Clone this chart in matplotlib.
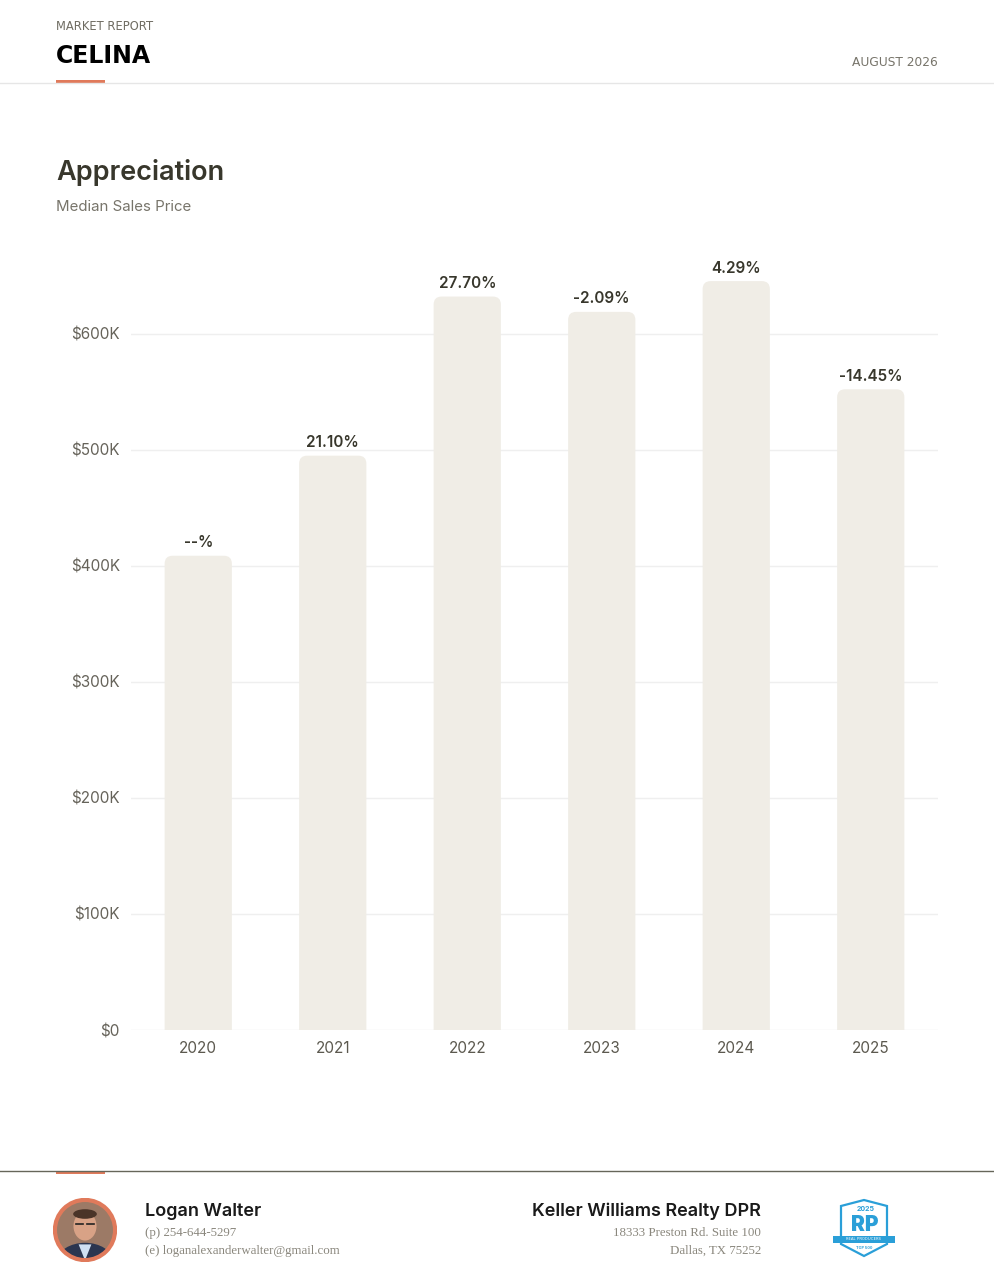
import numpy as np
import matplotlib
matplotlib.use('Agg')
import matplotlib.pyplot as plt
from matplotlib.patches import FancyBboxPatch, Circle, Ellipse, Polygon, Rectangle

# data
years = ['2020', '2021', '2022', '2023', '2024', '2025']
median_price = [408600, 494800, 631900, 618700, 645200, 552000]
change_labels = ['--%', '21.10%', '27.70%', '-2.09%', '4.29%', '-14.45%']
y_ticks = [0, 100000, 200000, 300000, 400000, 500000, 600000]
y_tick_labels = ['$0', '$100K', '$200K', '$300K', '$400K', '$500K', '$600K']

W, H = 994, 1288
SANS = ['Inter', 'DejaVu Sans']
WIDE = ['DejaVu Sans']
SERIF = ['Liberation Serif', 'DejaVu Serif']
ORANGE = '#E07A5B'
BAR = '#F0EDE6'
DARK = '#38372c'
GREY = '#77746a'

plt.rcParams['font.family'] = SANS

fig = plt.figure(figsize=(W / 100, H / 100), dpi=100)
fig.patch.set_facecolor('white')


def fx(x):
    return x / W


def fy(y):
    return 1 - y / H


def ftext(x, y, s, **kw):
    fig.text(fx(x), fy(y), s, va='center', **kw)


# header
ftext(56, 27, 'MARKET REPORT', size=8.3, color='#6f6c62', family=WIDE)
ftext(56, 56, 'CELINA', size=17, color='black', weight='bold', family=WIDE)
ftext(938, 63, 'AUGUST 2026', size=8.8, color=GREY, ha='right', family=WIDE)
fig.add_artist(plt.Line2D([0, 1], [fy(83), fy(83)], color='#e6e6e6', lw=1))
fig.add_artist(Rectangle((fx(56), fy(83)), fx(49), 3 / H, color=ORANGE, lw=0))

ftext(56, 172, 'Appreciation', size=19.5, color=DARK, weight='semibold')
ftext(56, 207, 'Median Sales Price', size=10.8, color=GREY)

# chart
left, right, top, bottom = 131, 938, 250, 1030
ax = fig.add_axes([fx(left), fy(bottom), (right - left) / W, (bottom - top) / H])
pos = np.arange(len(years))
ax.set_xlim(-0.5, len(years) - 0.5)
ax.set_ylim(0, 672000)

x_per_px = (len(years)) / (right - left)
y_per_px = 672000 / (bottom - top)
aspect = y_per_px / x_per_px
rad = 8 * x_per_px
bw = 0.5
for xi, v, lab in zip(pos, median_price, change_labels):
    ry = rad * aspect
    box = FancyBboxPatch((xi - bw / 2, -2 * ry), bw, v + 2 * ry,
                         boxstyle='round,pad=0,rounding_size=%f' % rad,
                         mutation_aspect=aspect, fc=BAR, ec='none', zorder=2)
    ax.add_patch(box)
    ax.annotate(lab, (xi, v), xytext=(0, 4), textcoords='offset points',
                ha='center', va='bottom', size=11, weight='semibold', color=DARK)

ax.set_yticks(y_ticks)
ax.set_yticklabels(y_tick_labels)
ax.set_xticks(pos)
ax.set_xticklabels(years)
ax.tick_params(axis='y', length=0, pad=8, labelsize=11, labelcolor='#66635a')
ax.tick_params(axis='x', length=0, pad=8, labelsize=11, labelcolor='#5c594f')
ax.grid(axis='y', color='#efefef', lw=1)
ax.set_axisbelow(True)
for s in ax.spines.values():
    s.set_visible(False)

# footer
fig.add_artist(plt.Line2D([0, 1], [fy(1171), fy(1171)], color='#66665a', lw=1))
fig.add_artist(Rectangle((fx(56), fy(1174)), fx(49), 3 / H, color=ORANGE, lw=0))

# photo placeholder (portrait drawn with simple shapes)
pax = fig.add_axes([fx(53), fy(1262), 64 / W, 64 / H])
pax.set_xlim(-1, 1)
pax.set_ylim(-1, 1)
pax.axis('off')
clip = Circle((0, 0), 0.94, transform=pax.transData)
bg = Circle((0, 0), 0.94, fc='#9c7a66', ec='none')
pax.add_patch(bg)
for art in [Ellipse((0, -0.95), 1.7, 1.1, fc='#2b3650'),
            Polygon([[-0.2, -0.45], [0.2, -0.45], [0, -0.95]], fc='#cfe0f2'),
            Ellipse((0, 0.12), 0.72, 0.9, fc='#d8a286'),
            Ellipse((0, 0.5), 0.74, 0.3, fc='#4a3428')]:
    art.set_clip_path(clip)
    pax.add_patch(art)
pax.plot([-0.28, -0.05], [0.2, 0.2], color='#222222', lw=1.2)
pax.plot([0.05, 0.28], [0.2, 0.2], color='#222222', lw=1.2)
pax.add_patch(Circle((0, 0), 0.94, fc='none', ec=ORANGE, lw=3))

ftext(145, 1211, 'Logan Walter', size=13, weight='semibold', color='#1a1a1a')
ftext(145, 1233, '(p) 254-644-5297', size=9.3, color='#8a877d', family=SERIF)
ftext(145, 1251, '(e) loganalexanderwalter@gmail.com', size=9.3, color='#8a877d', family=SERIF)
ftext(761, 1211, 'Keller Williams Realty DPR', size=13, weight='semibold', color='#1a1a1a', ha='right')
ftext(761, 1233, '18333 Preston Rd. Suite 100', size=9.3, color='#8a877d', family=SERIF, ha='right')
ftext(761, 1251, 'Dallas, TX 75252', size=9.3, color='#8a877d', family=SERIF, ha='right')

# badge
bax = fig.add_axes([fx(830), fy(1260), 68 / W, 62 / H])
bax.set_xlim(0, 68)
bax.set_ylim(62, 0)
bax.axis('off')
BLUE = '#2a9fd8'
bax.add_patch(Polygon([[11, 8], [34, 2], [57, 8], [57, 46], [34, 58], [11, 46]],
                      closed=True, fc='white', ec=BLUE, lw=1.6))
bax.text(36, 11, '2025', ha='center', va='center', size=5, weight='bold', color=BLUE)
bax.text(35, 27, 'RP', ha='center', va='center', size=15, weight='black', color=BLUE)
bax.add_patch(Rectangle((3, 38), 62, 7, fc=BLUE, ec='none'))
bax.text(34, 41.5, 'REAL PRODUCERS', ha='center', va='center', size=2.8, color='white')
bax.text(34, 50, 'TOP 500', ha='center', va='center', size=2.8, weight='bold', color=BLUE)

fig.savefig('out.png', dpi=100)
